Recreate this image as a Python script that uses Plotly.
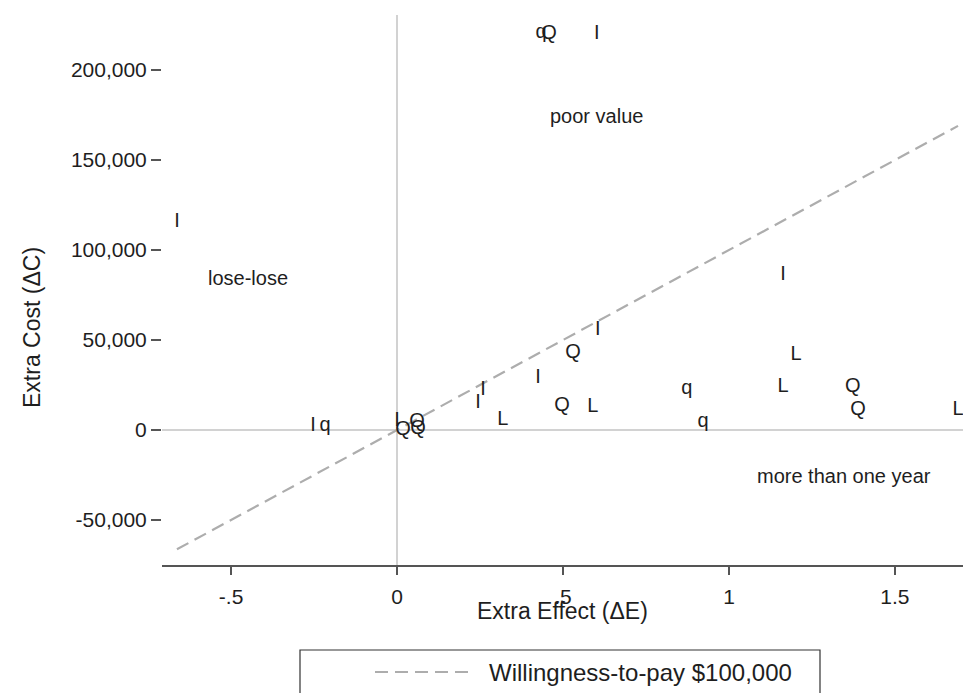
import plotly.graph_objects as go

# ---- data ----
labels = ["I", "I", "q", "I", "Q", "Q", "Q",
          "q", "Q", "I",
          "I", "I", "L", "I", "Q", "I", "Q", "L",
          "I", "L", "q", "L", "Q", "Q", "L", "q"]
d_effect = [-0.663, -0.253, -0.217, 0.000, 0.018, 0.060, 0.063,
            0.434, 0.458, 0.602,
            0.259, 0.244, 0.319, 0.425, 0.530, 0.605, 0.497, 0.590,
            1.163, 1.202, 0.873, 1.163, 1.373, 1.389, 1.690, 0.922]
d_cost = [115600, 2200, 2200, 5000, 0, 4400, 500,
          220500, 220000, 220300,
          22200, 15000, 5600, 28900, 42800, 55600, 13300, 12800,
          86100, 41700, 22800, 23900, 23900, 11100, 11100, 4400]

wtp = 100000
wtp_name = "Willingness-to-pay $100,000"

quad_text = ["poor value", "lose-lose", "more than one year"]
quad_x = [0.60, -0.45, 1.345]
quad_y = [174400, 84400, -25600]

x_tickvals = [-0.5, 0, 0.5, 1, 1.5]
x_ticktext = ["-.5", "0", ".5", "1", "1.5"]
y_tickvals = [-50000, 0, 50000, 100000, 150000, 200000]
y_ticktext = ["-50,000", "0", "50,000", "100,000", "150,000", "200,000"]

FONT = "Liberation Sans, Arial, Helvetica, sans-serif"
TXT = "#1e1e1e"
DASH_COLOR = "#adadad"
DASH = "13px,7px"

# plot area on screen: x 162..963, y 15..565
W, H = 963, 693
ML, MT, MB = 162, 15, 128
PW, PH = W - ML, H - MT - MB


def px2paper_x(px):
    return (px - ML) / PW


def px2paper_y(py):
    return (H - MB - py) / PH


fig = go.Figure()

line_x = [min(d_effect), max(d_effect)]
line_y = [wtp * v for v in line_x]
fig.add_trace(go.Scatter(
    x=line_x, y=line_y, mode="lines", name=wtp_name,
    line=dict(color=DASH_COLOR, width=2.2, dash=DASH),
    showlegend=False, hoverinfo="skip"))

fig.add_trace(go.Scatter(
    x=d_effect, y=d_cost, mode="text", text=labels,
    textposition="middle center",
    textfont=dict(family=FONT, size=20, color=TXT),
    showlegend=False))

for t, xv, yv in zip(quad_text, quad_x, quad_y):
    fig.add_annotation(x=xv, y=yv, text=t, showarrow=False,
                       font=dict(family=FONT, size=20, color=TXT),
                       xanchor="center", yanchor="middle")

# axis titles
fig.add_annotation(x=px2paper_x(562), y=px2paper_y(611), xref="paper", yref="paper",
                   text="Extra Effect (\u0394E)", showarrow=False,
                   font=dict(family=FONT, size=23, color=TXT),
                   xanchor="center", yanchor="middle")
fig.add_annotation(x=px2paper_x(32), y=px2paper_y(328), xref="paper", yref="paper",
                   text="Extra Cost (\u0394C)", showarrow=False, textangle=-90,
                   font=dict(family=FONT, size=23, color=TXT),
                   xanchor="center", yanchor="middle")

# legend (box, key and label)
fig.add_shape(type="rect", xref="paper", yref="paper",
              x0=px2paper_x(300), x1=px2paper_x(820),
              y0=px2paper_y(650), y1=px2paper_y(720),
              line=dict(color="#333333", width=1.2), fillcolor="white",
              layer="below")
fig.add_shape(type="line", xref="paper", yref="paper",
              x0=px2paper_x(375), x1=px2paper_x(470),
              y0=px2paper_y(672), y1=px2paper_y(672),
              line=dict(color=DASH_COLOR, width=2.2, dash=DASH))
fig.add_annotation(x=px2paper_x(487), y=px2paper_y(672), xref="paper", yref="paper",
                   text=wtp_name, showarrow=False,
                   font=dict(family=FONT, size=24, color=TXT),
                   xanchor="left", yanchor="middle")

fig.update_layout(
    width=W, height=H,
    margin=dict(l=ML, r=0, t=MT, b=MB, pad=0),
    paper_bgcolor="white", plot_bgcolor="white",
    font=dict(family=FONT, size=21, color=TXT),
    showlegend=False,
    xaxis=dict(range=[-0.708, 1.705], tickvals=x_tickvals, ticktext=x_ticktext,
               showgrid=False, zeroline=True, zerolinecolor="#d2d2d2",
               zerolinewidth=2, showline=True, linecolor="#555555",
               linewidth=1.5, ticks="outside", ticklen=8, tickwidth=1.5,
               tickcolor="#555555", ticklabelstandoff=4,
               tickfont=dict(family=FONT, size=21, color=TXT)),
    yaxis=dict(range=[-75000, 230600], tickvals=y_tickvals, ticktext=y_ticktext,
               showgrid=False, zeroline=True, zerolinecolor="#d2d2d2",
               zerolinewidth=2, showline=False, ticks="outside", ticklen=10,
               tickwidth=1.5, tickcolor="#555555",
               tickfont=dict(family=FONT, size=21, color=TXT)),
)

fig.write_html(
    "out.html",
    config={"displayModeBar": False},
    post_script="document.body.style.margin='0';"
                "document.documentElement.style.overflow='hidden';"
                "document.body.style.overflow='hidden';")
